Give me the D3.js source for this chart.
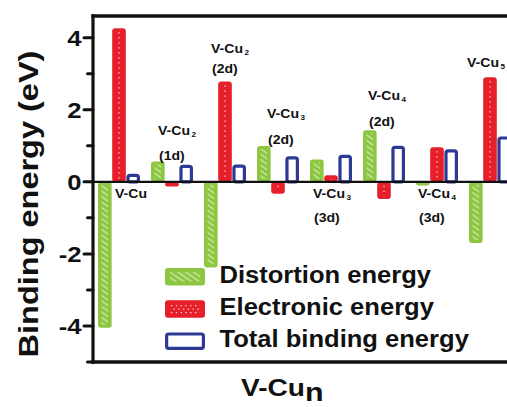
<!DOCTYPE html>
<html>
<head>
<meta charset="utf-8">
<script src="https://cdn.jsdelivr.net/npm/d3@7/dist/d3.min.js"></script>
<style>
  html, body { margin: 0; padding: 0; background: #fff; }
  svg { display: block; }
  text { font-family: "Liberation Sans", Arial, Helvetica, sans-serif; font-weight: bold; fill: #111; }
</style>
</head>
<body>
<script>
// ---------------- data ----------------
const groups = ["V-Cu", "V-Cu2 (1d)", "V-Cu2 (2d)", "V-Cu3 (2d)", "V-Cu3 (3d)", "V-Cu4 (2d)", "V-Cu4 (3d)", "V-Cu5"];
const series = ["Distortion energy", "Electronic energy", "Total binding energy"];
const distortion = [-4.05, 0.56, -2.38, 0.99, 0.62, 1.43, -0.10, -1.70];
const electronic = [4.26, -0.13, 2.78, -0.33, 0.18, -0.48, 0.96, 2.90];
const total      = [0.22, 0.47, 0.48, 0.71, 0.75, 1.00, 0.90, 1.26];
const majorTicks = [-4, -2, 0, 2, 4];
const minorTicks = [-5, -3, -1, 1, 3];
// group annotations: main text, subscript, second line
const labelText = [
  ["V-Cu", "", ""], ["V-Cu", "2", "(1d)"], ["V-Cu", "2", "(2d)"], ["V-Cu", "3", "(2d)"],
  ["V-Cu", "3", "(3d)"], ["V-Cu", "4", "(2d)"], ["V-Cu", "4", "(3d)"], ["V-Cu", "5", ""]
];
// annotation layout (px offset from group band start, baselines in eV)
const labelLayout = [
  {dx: 22.5, y1: -0.45, y2: null}, {dx: 12.5, y1: 1.30, y2: 0.60}, {dx: 12.5, y1: 3.57, y2: 3.02},
  {dx: 15.5, y1: 1.77, y2: 1.05}, {dx: 8.5, y1: -0.45, y2: -1.11}, {dx: 10.5, y1: 2.27, y2: 1.55},
  {dx: 7.5, y1: -0.45, y2: -1.11}, {dx: 3.5, y1: 3.19, y2: null}
];

// ---------------- setup ----------------
const W = 507, H = 407;
const svg = d3.select("body").append("svg").attr("width", W).attr("height", H);
svg.append("rect").attr("width", W).attr("height", H).attr("fill", "#fff");

const plot = {left: 93, right: 516, top: 16, bottom: 362};
const y = d3.scaleLinear().domain([-5, 4.6]).range([plot.bottom, plot.top]);
const x = d3.scaleBand().domain(groups).range([92.5, 516.5]).paddingInner(0).paddingOuter(0);
const xs = d3.scaleBand().domain(series).range([-21, 21]).paddingInner(0.04);
const colors = {green: "#8dc641", greenLight: "#cfe8ad", red: "#e61f2b", blue: "#2c3995"};

const rows = groups.map((g, i) => ({g, i, vals: [distortion[i], electronic[i], total[i]]}));

const defs = svg.append("defs");
const hatch = defs.append("pattern").attr("id", "hatch").attr("patternUnits", "userSpaceOnUse")
  .attr("width", 4.5).attr("height", 4.5).attr("patternTransform", "rotate(-55)");
hatch.append("rect").attr("width", 4.5).attr("height", 4.5).attr("fill", colors.green);
hatch.append("rect").attr("x", 0).attr("width", 1.3).attr("height", 4.5).attr("fill", colors.greenLight);

function stretchText(parent, tx, ty, sx, rot) {
  const g = parent.append("g").attr("transform", `translate(${tx},${ty})` + (rot ? ` rotate(${rot})` : "") + ` scale(${sx},1)`);
  return g.append("text");
}

// ---------------- bars ----------------
const gBars = svg.append("g");
const bw = xs.bandwidth();
rows.forEach(r => {
  const cx = x(r.g) + x.bandwidth() / 2;
  // distortion (green, hatched)
  {
    const v = r.vals[0], x0 = cx + xs(series[0]);
    const top = Math.min(y(v), y(0)), h = Math.abs(y(v) - y(0));
    gBars.append("rect").attr("x", x0).attr("y", top).attr("width", bw).attr("height", h)
      .attr("rx", 3).attr("fill", colors.green);
    if (h > 6) gBars.append("rect").attr("x", x0 + 3.5).attr("y", top + 3).attr("width", bw - 7).attr("height", h - 6)
      .attr("fill", "url(#hatch)");
  }
  // electronic (red, dotted)
  {
    const v = r.vals[1], x0 = cx + xs(series[1]);
    const top = Math.min(y(v), y(0)), h = Math.abs(y(v) - y(0));
    gBars.append("rect").attr("x", x0).attr("y", top).attr("width", bw).attr("height", h)
      .attr("rx", 3).attr("fill", colors.red);
    if (h > 6) gBars.append("line").attr("x1", x0 + bw / 2).attr("x2", x0 + bw / 2)
      .attr("y1", top + 4).attr("y2", top + h - 3)
      .attr("stroke", "#fff").attr("stroke-opacity", 0.8).attr("stroke-width", 1.3)
      .attr("stroke-dasharray", "1.2 3.8");
  }
  // total (blue outline)
  {
    const v = r.vals[2], x0 = cx + xs(series[2]);
    const top = Math.min(y(v), y(0)), h = Math.abs(y(v) - y(0));
    gBars.append("rect").attr("x", x0 + 1.6).attr("y", top + 1.6).attr("width", bw - 3.2).attr("height", Math.max(0, h - 1.6))
      .attr("rx", 2).attr("fill", "#fff").attr("stroke", colors.blue).attr("stroke-width", 3.2);
  }
});

// zero line
svg.append("line").attr("x1", plot.left).attr("x2", W).attr("y1", y(0)).attr("y2", y(0))
  .attr("stroke", "#111").attr("stroke-width", 2.2);

// ---------------- frame & axis ----------------
svg.append("line").attr("x1", plot.left).attr("x2", plot.left).attr("y1", plot.top - 1.7).attr("y2", plot.bottom + 1.7)
  .attr("stroke", "#111").attr("stroke-width", 3.2);
svg.append("line").attr("x1", plot.left - 1.6).attr("x2", W).attr("y1", plot.top).attr("y2", plot.top)
  .attr("stroke", "#111").attr("stroke-width", 3.4);
svg.append("line").attr("x1", plot.left - 1.6).attr("x2", W).attr("y1", plot.bottom).attr("y2", plot.bottom)
  .attr("stroke", "#111").attr("stroke-width", 3.4);

majorTicks.forEach(t => {
  svg.append("line").attr("x1", plot.left - 9).attr("x2", plot.left).attr("y1", y(t)).attr("y2", y(t))
    .attr("stroke", "#111").attr("stroke-width", 3).attr("stroke-linecap", "round");
  stretchText(svg, 81.5, y(t) + 8, 1.14).attr("text-anchor", "end").attr("font-size", 22.5).text(t);
});
minorTicks.forEach(t => {
  svg.append("line").attr("x1", plot.left - 5.5).attr("x2", plot.left).attr("y1", y(t)).attr("y2", y(t))
    .attr("stroke", "#111").attr("stroke-width", 3).attr("stroke-linecap", "round");
});

// axis titles
stretchText(svg, 37.5, 204, 1.14, -90).attr("text-anchor", "middle").attr("font-size", 28.5).text("Binding energy (eV)");
{
  const t = stretchText(svg, 241, 396, 1.17).attr("font-size", 24);
  t.append("tspan").text("V-Cu");
  t.append("tspan").attr("font-size", 26).attr("dy", 4.5).text("n");
}

// ---------------- group labels ----------------
rows.forEach(r => {
  const [main, sub, line2] = labelText[r.i];
  const L = labelLayout[r.i];
  const x0 = x(r.g) + L.dx;
  const t = stretchText(svg, x0, y(L.y1), 1.08).attr("font-size", 13);
  t.append("tspan").text(main);
  if (sub) t.append("tspan").attr("font-size", 7.5).attr("dx", 1.5).attr("dy", 2).text(sub);
  if (line2) stretchText(svg, x0 + 1, y(L.y2), 1.08).attr("font-size", 13).text(line2);
});

// ---------------- legend ----------------
const leg = svg.append("g");
series.forEach((s, i) => {
  const ry = 268 + i * 32.2;
  if (i === 0) {
    leg.append("rect").attr("x", 165).attr("y", ry).attr("width", 40).attr("height", 17.5).attr("rx", 3).attr("fill", colors.green);
    leg.append("rect").attr("x", 170).attr("y", ry + 4).attr("width", 30).attr("height", 9.5).attr("fill", "url(#hatch)");
  } else if (i === 1) {
    leg.append("rect").attr("x", 165).attr("y", ry).attr("width", 40).attr("height", 17.5).attr("rx", 3).attr("fill", colors.red);
    [ry + 5.5, ry + 9, ry + 12.5].forEach((yy, k) => {
      leg.append("line").attr("x1", 171 + (k % 2) * 2.4).attr("x2", 200).attr("y1", yy).attr("y2", yy)
        .attr("stroke", "#fff").attr("stroke-opacity", 0.8).attr("stroke-width", 1.3).attr("stroke-dasharray", "1.3 3.5");
    });
  } else {
    leg.append("rect").attr("x", 166.6).attr("y", ry + 1.6).attr("width", 36.8).attr("height", 14.3).attr("rx", 2)
      .attr("fill", "#fff").attr("stroke", colors.blue).attr("stroke-width", 3.2);
  }
  stretchText(leg, 219.5, ry + 15, 1.065).attr("font-size", 24).text(s);
});
</script>
</body>
</html>
